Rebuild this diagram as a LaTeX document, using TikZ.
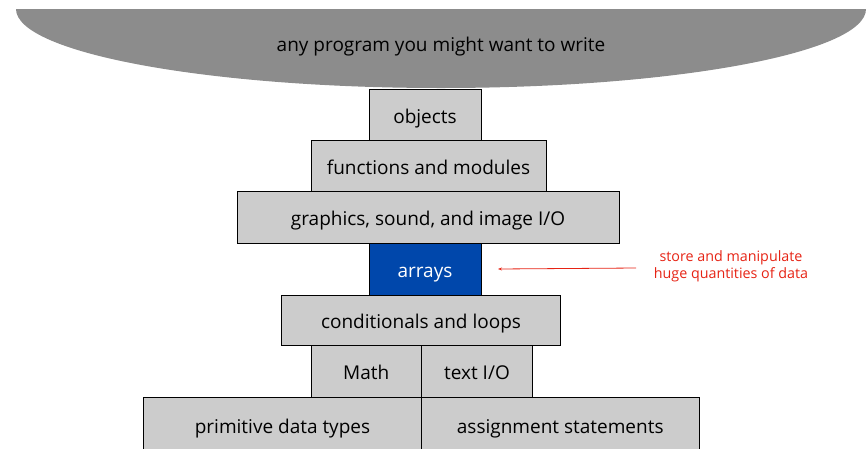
\documentclass[tikz,border=0pt]{standalone}
\usepackage{fontspec}
\setmainfont{Open Sans}
\usetikzlibrary{arrows.meta}
\definecolor{topgray}{RGB}{140,140,140}
\definecolor{boxgray}{RGB}{204,204,204}
\definecolor{arrblue}{RGB}{0,71,171}
\definecolor{notered}{RGB}{230,35,20}
\begin{document}
\begin{tikzpicture}[x=1pt,y=-1pt,
  txt/.style={inner sep=0pt,font=\fontsize{19}{22}\selectfont,text height=18pt,text depth=1pt},
  layer/.style={txt,draw=black,line width=0.8pt,fill=boxgray},
  note/.style={text=notered,font=\fontsize{14.3}{17}\selectfont,align=center,inner sep=0pt}]
\useasboundingbox (0,0) rectangle (867,448);
% top half ellipse
\fill[topgray] (16,9) arc[start angle=180,end angle=360,x radius=425,y radius=-79] -- cycle;
\node[txt] (any) at (441,43) {any program you might want to write};
% layers
\node[layer,minimum width=112pt,minimum height=51pt] (obj) at (425,114.5) {objects};
\node[layer,minimum width=235pt,minimum height=51.5pt] (fun) at (428.5,165.75) {functions and modules};
\node[layer,minimum width=382pt,minimum height=51.5pt] (gra) at (428,217.25) {graphics, sound, and image I/O};
\node[layer,fill=arrblue,text=white,minimum width=112pt,minimum height=52pt] (arr) at (425,269) {arrays};
\node[layer,minimum width=279pt,minimum height=50.5pt] (con) at (421,320.25) {conditionals and loops};
\node[layer,minimum width=110.5pt,minimum height=51.5pt] (mat) at (366.25,371.25) {Math};
\node[layer,minimum width=111pt,minimum height=51.5pt] (tio) at (477,371.25) {text I/O};
\node[layer,minimum width=278pt,minimum height=55pt] (pri) at (282.5,424.5) {primitive data types};
\node[layer,minimum width=277.5pt,minimum height=55pt] (ass) at (560.25,424.5) {assignment statements};
% note
\node[note] (txt) at (731,266.5) {store and manipulate\\huge quantities of data};
\coordinate (tail) at (636,268);
\draw[notered,line width=0.8pt,-{Stealth[length=4pt,width=3pt]}] (tail) -- (arr.east -| 498,0);
\end{tikzpicture}
\end{document}
